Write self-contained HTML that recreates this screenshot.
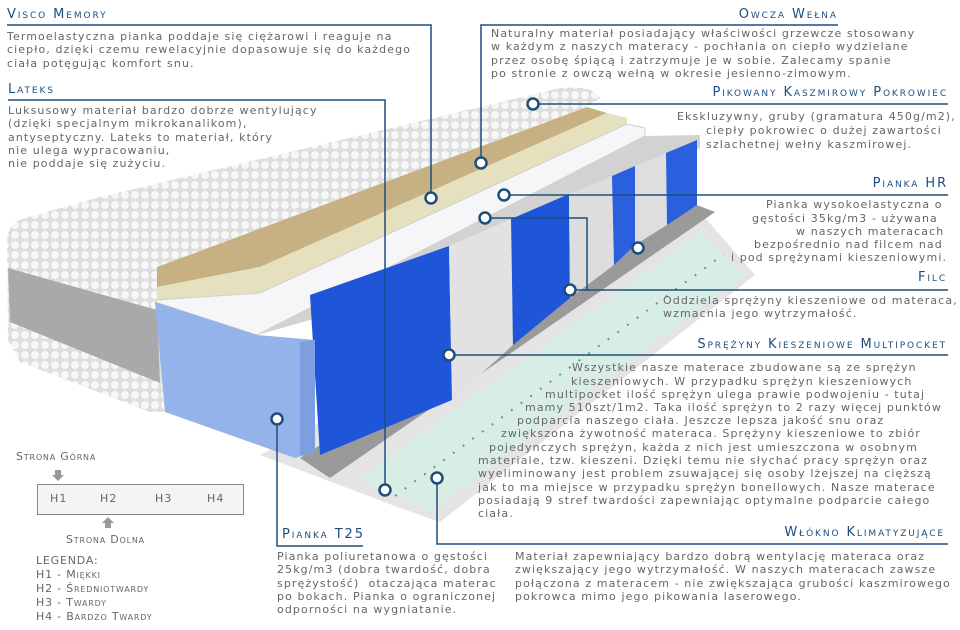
<!DOCTYPE html>
<html><head><meta charset="utf-8">
<style>
body{margin:0;background:#fff}
#w{position:relative;width:960px;height:630px;overflow:hidden;background:#fff}
.t{position:absolute;white-space:pre;font-family:"DejaVu Sans","Liberation Sans",sans-serif;font-size:11px;letter-spacing:1.1px;color:#666;line-height:13.3px}
.h{position:absolute;white-space:pre;font-family:"DejaVu Sans","Liberation Sans",sans-serif;font-size:13px;font-variant:small-caps;letter-spacing:1.9px;color:#1d4e7e;line-height:16px}
.hr{text-align:right}
.g{position:absolute;white-space:pre;font-family:"DejaVu Sans","Liberation Sans",sans-serif;font-size:11px;font-variant:small-caps;letter-spacing:0.8px;color:#666;line-height:14px}
svg{position:absolute;left:0;top:0}
</style></head><body><div id="w">
<svg width="960" height="630" viewBox="0 0 960 630">
<defs>
<pattern id="q" width="10" height="10" patternUnits="userSpaceOnUse"><rect width="10" height="10" fill="#dedede"/><circle cx="5" cy="5" r="4" fill="#f7f7f7"/></pattern>
</defs>
<!-- bottom slab -->
<polygon points="260,455 700,212 755,275 440,522 400,508" fill="#e4e4e4"/>
<polygon points="360,478 702,232 745,274 430,512" fill="#d8eee4"/>
<line x1="395" y1="496" x2="724" y2="254" stroke="#4aa880" stroke-width="2" stroke-dasharray="2 10"/>
<!-- felt -->
<polygon points="300,458 697,205 715,212 330,478" fill="#9a9a9a"/>
<!-- cover top -->
<path d="M8,235 Q10,222 25,218 L100,197 L560,88 Q595,85 600,98 L587,107 L157,267 L157,275 Z" fill="url(#q)"/>
<!-- left block -->
<polygon points="7,232 157,270 165,412 150,412 20,362 8,340" fill="url(#q)"/>
<polygon points="8,268 157,310 160,383 10,322" fill="#a9a9a9"/>
<!-- layers -->
<polygon points="157,267 587,107 607,113 260,267 157,287" fill="#c7b182"/>
<polygon points="157,287 260,267 607,113 627,118 627,124 260,293 157,300" fill="#e5e0bd"/>
<polygon points="157,300 260,293 627,124 645,128 645,136 257,335 155,302" fill="#f6f6f8" stroke="#cfcfcf"/>
<polygon points="257,335 645,136 700,135 700,148 310,320" fill="#d2d2d2"/>
<!-- springs -->
<polygon points="310,295 449,246 452,400 320,455" fill="#1f55d8"/>
<polygon points="449,246 511,219 513,345 452,400" fill="#e2e2e2"/>
<polygon points="511,219 569,194 570,298 513,345" fill="#1f55d8"/>
<polygon points="569,194 612,176 614,265 570,298" fill="#dddddd"/>
<polygon points="612,176 635,166 635,245 614,265" fill="#2a5fde"/>
<polygon points="635,166 666,153 667,225 635,245" fill="#dedede"/>
<polygon points="666,153 697,140 697,205 667,225" fill="#2a5fde"/>
<!-- blue foam -->
<polygon points="155,302 257,335 315,340 315,452 295,458 165,412" fill="#93b3ea"/>
<polygon points="300,342 315,340 315,452 300,456" fill="#7d9fe0"/>
<!-- connectors -->
<g fill="none" stroke="#1d4e7e" stroke-width="1.5">
<polyline points="7,25 431,25 431,198"/>
<polyline points="8,100 385,100 385,490"/>
<polyline points="838,25 481,25 481,163"/>
<polyline points="533,104 948,104"/>
<polyline points="504,195 948,195"/>
<polyline points="485,218 587,218 587,290 570,290 948,290"/>
<polyline points="449,355 948,355"/>
<polyline points="277,419 277,546 363,546"/>
<polyline points="437,478 437,544 948,544"/>
</g>
<g fill="#fff" stroke="#1d4e7e" stroke-width="2.5">
<circle cx="431" cy="198" r="5.5"/><circle cx="385" cy="490" r="5.5"/><circle cx="481" cy="163" r="5.5"/>
<circle cx="533" cy="104" r="5.5"/><circle cx="504" cy="195" r="5.5"/><circle cx="485" cy="218" r="5.5"/>
<circle cx="570" cy="290" r="5.5"/><circle cx="638" cy="248" r="5.5"/><circle cx="449" cy="355" r="5.5"/>
<circle cx="277" cy="419" r="5.5"/><circle cx="437" cy="478" r="5.5"/>
</g>
<!-- legend -->
<rect x="37.5" y="484.5" width="206" height="30" fill="#f4f4f4" stroke="#888"/>
<path d="M55,470 h6 v5 h3 l-6,6 l-6,-6 h3z" fill="#999"/>
<path d="M105,528 h6 v-5 h3 l-6,-6 l-6,6 h3z" fill="#999"/>
</svg>

<div class="h" style="left:7px;top:7px">Visco Memory</div>
<div class="t" style="left:7px;top:30px">Termoelastyczna pianka poddaje się ciężarowi i reaguje na
ciepło, dzięki czemu rewelacyjnie dopasowuje się do każdego
ciała potęgując komfort snu.</div>
<div class="h" style="left:8px;top:82px">Lateks</div>
<div class="t" style="left:8px;top:104px">Luksusowy materiał bardzo dobrze wentylujący
(dzięki specjalnym mikrokanalikom),
antyseptyczny. Lateks to materiał, który
nie ulega wypracowaniu,
nie poddaje się zużyciu.</div>

<div class="h hr" style="right:122px;top:7px">Owcza Wełna</div>
<div class="t" style="left:491px;top:27px">Naturalny materiał posiadający właściwości grzewcze stosowany
w każdym z naszych materacy - pochłania on ciepło wydzielane
przez osobę śpiącą i zatrzymuje je w sobie. Zalecamy spanie
po stronie z owczą wełną w okresie jesienno-zimowym.</div>

<div class="h hr" style="right:12px;top:85px">Pikowany Kaszmirowy Pokrowiec</div>
<div class="t" style="left:677px;top:110px">Ekskluzywny, gruby (gramatura 450g/m2),</div>
<div class="t" style="left:706px;top:124px">ciepły pokrowiec o dużej zawartości</div>
<div class="t" style="left:706px;top:138px">szlachetnej wełny kaszmirowej.</div>

<div class="h hr" style="right:12px;top:176px">Pianka HR</div>
<div class="t" style="left:766px;top:198px">Pianka wysokoelastyczna o</div>
<div class="t" style="left:752px;top:212px">gęstości 35kg/m3 - używana</div>
<div class="t" style="left:796px;top:225px">w naszych materacach</div>
<div class="t" style="left:754px;top:238px">bezpośrednio nad filcem nad</div>
<div class="t" style="left:731px;top:251px">i pod sprężynami kieszeniowymi.</div>

<div class="h hr" style="right:13px;top:270px">Filc</div>
<div class="t" style="left:663px;top:294px">Oddziela sprężyny kieszeniowe od materaca,
wzmacnia jego wytrzymałość.</div>

<div class="h hr" style="right:13px;top:337px">Sprężyny Kieszeniowe Multipocket</div>
<div class="t" style="left:572px;top:361px">Wszystkie nasze materace zbudowane są ze sprężyn</div>
<div class="t" style="left:571px;top:375px">kieszeniowych. W przypadku sprężyn kieszeniowych</div>
<div class="t" style="left:545px;top:388px">multipocket ilość sprężyn ulega prawie podwojeniu - tutaj</div>
<div class="t" style="left:525px;top:401px">mamy 510szt/1m2. Taka ilość sprężyn to 2 razy więcej punktów</div>
<div class="t" style="left:517px;top:414px">podparcia naszego ciała. Jeszcze lepsza jakość snu oraz</div>
<div class="t" style="left:501px;top:427px">zwiększona żywotność materaca. Sprężyny kieszeniowe to zbiór</div>
<div class="t" style="left:489px;top:441px">pojedynczych sprężyn, każda z nich jest umieszczona w osobnym</div>
<div class="t" style="left:478px;top:454px">materiale, tzw. kieszeni. Dzięki temu nie słychać pracy sprężyn oraz
wyeliminowany jest problem zsuwającej się osoby lżejszej na cięższą
jak to ma miejsce w przypadku sprężyn bonellowych. Nasze materace
posiadają 9 stref twardości zapewniając optymalne podparcie całego
ciała.</div>

<div class="h" style="left:282px;top:527px">Pianka T25</div>
<div class="t" style="left:277px;top:550px">Pianka poliuretanowa o gęstości
25kg/m3 (dobra twardość, dobra
sprężystość)  otaczająca materac
po bokach. Pianka o ograniczonej
odporności na wygniatanie.</div>

<div class="h hr" style="right:15px;top:525px">Włókno Klimatyzujące</div>
<div class="t" style="left:515px;top:550px">Materiał zapewniający bardzo dobrą wentylację materaca oraz
zwiększający jego wytrzymałość. W naszych materacach zawsze
połączona z materacem - nie zwiększająca grubości kaszmirowego
pokrowca mimo jego pikowania laserowego.</div>

<div class="g" style="left:16px;top:450px">Strona Górna</div>
<div class="t" style="left:50px;top:492px">H1</div>
<div class="t" style="left:100px;top:492px">H2</div>
<div class="t" style="left:155px;top:492px">H3</div>
<div class="t" style="left:207px;top:492px">H4</div>
<div class="g" style="left:66px;top:533px">Strona Dolna</div>
<div class="g" style="left:36px;top:554px;line-height:14px">LEGENDA:
H1 - Miękki
H2 - Średniotwardy
H3 - Twardy
H4 - Bardzo Twardy</div>
</div></body></html>
